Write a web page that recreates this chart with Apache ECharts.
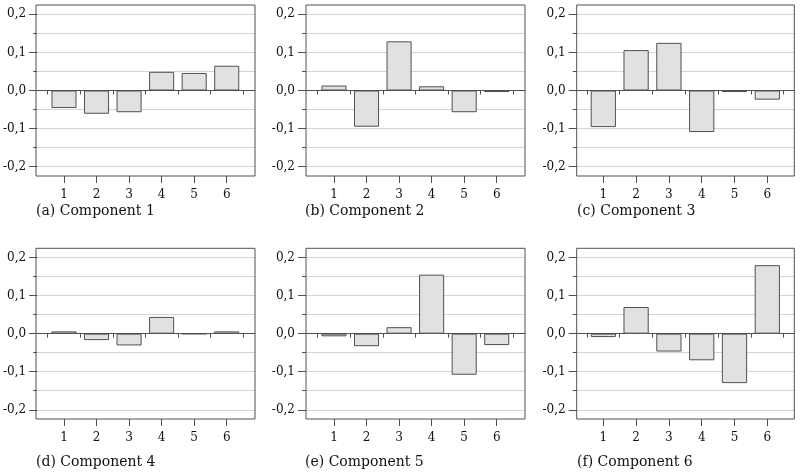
<!DOCTYPE html>
<html><head><meta charset="utf-8">
<script src="https://cdn.jsdelivr.net/npm/echarts@6/dist/echarts.min.js"></script>
<style>html,body{margin:0;padding:0;background:#fff}#c{width:800px;height:475px}</style>
</head><body><div id="c"></div>
<script>
// ---- data ----
const categories = ['1', '2', '3', '4', '5', '6'];
const comp1 = [-0.046, -0.061, -0.057, 0.049, 0.046, 0.065];
const comp2 = [0.013, -0.095, 0.129, 0.011, -0.057, -0.004];
const comp3 = [-0.096, 0.106, 0.125, -0.109, -0.004, -0.024];
const comp4 = [0.006, -0.017, -0.031, 0.044, -0.001, 0.006];
const comp5 = [-0.007, -0.033, 0.017, 0.155, -0.108, -0.030];
const comp6 = [-0.009, 0.070, -0.047, -0.070, -0.130, 0.180];
const captions = ['(a) Component 1', '(b) Component 2', '(c) Component 3',
                  '(d) Component 4', '(e) Component 5', '(f) Component 6'];
const yMin = -0.2, yMax = 0.2, yStep = 0.1;

const panels = [comp1, comp2, comp3, comp4, comp5, comp6];

// ---- layout ----
const FONT = 'DejaVu Serif';
const TEXT = '#111111';
const LINE = '#505050';
const GRID = '#d4d4d4';
const YEXT = 0.2243; // frame extent in data units
const cols = [
  {fl: 36, fw: 219, il: 47.7, iw: 195.3, cap: 36},
  {fl: 306, fw: 219, il: 317.7, iw: 195.3, cap: 305},
  {fl: 576.7, fw: 217.6, il: 586.9, iw: 196.8, cap: 577}
];
const rows = [
  {ft: 5, fh: 171, cap: 204},
  {ft: 248.3, fh: 170.7, cap: 455}
];

const grid = [], xAxis = [], yAxis = [], series = [], title = [];
panels.forEach((vals, i) => {
  const c = cols[i % 3], r = rows[Math.floor(i / 3)];
  const g0 = grid.length;
  // frame
  grid.push({left: c.fl, top: r.ft, width: c.fw, height: r.fh, show: true,
    borderColor: LINE, borderWidth: 1, backgroundColor: 'transparent', z: 10});
  xAxis.push({gridIndex: g0, type: 'value', show: false, min: 0, max: 1});
  yAxis.push({gridIndex: g0, type: 'value', show: false, min: 0, max: 1});
  // y scale with gridlines
  const pad = r.fh * (YEXT - yMax) / (2 * YEXT);
  const hh = r.fh * (yMax - yMin) / (2 * YEXT);
  grid.push({left: c.fl, top: r.ft + pad, width: c.fw, height: hh});
  xAxis.push({gridIndex: g0 + 1, type: 'value', min: 0, max: 1,
    axisLine: {show: true, onZero: true, lineStyle: {color: LINE, width: 1}},
    axisTick: {show: false}, axisLabel: {show: false}, splitLine: {show: false}});
  yAxis.push({gridIndex: g0 + 1, type: 'value', min: yMin, max: yMax, interval: yStep,
    axisLine: {show: false},
    axisTick: {show: true, inside: false, length: 8, lineStyle: {color: LINE}},
    minorTick: {show: true, splitNumber: 2, length: 4, lineStyle: {color: LINE}},
    splitLine: {show: true, lineStyle: {color: GRID, width: 1}},
    minorSplitLine: {show: true, lineStyle: {color: GRID, width: 1}},
    axisLabel: {margin: 11, fontFamily: FONT, fontSize: 12, color: TEXT,
      formatter: v => v.toFixed(1).replace('.', ',')}});
  // bars + x ticks
  grid.push({left: c.il, top: r.ft, width: c.iw, height: r.fh});
  const xa = xAxis.length;
  xAxis.push({gridIndex: g0 + 2, type: 'category', data: categories, position: 'bottom',
    boundaryGap: true, axisLine: {show: false},
    axisTick: {show: true, alignWithLabel: false, length: 4, lineStyle: {color: LINE}},
    axisLabel: {show: false}});
  xAxis.push({gridIndex: g0 + 2, type: 'category', data: categories, position: 'bottom',
    boundaryGap: true, axisLine: {show: false},
    axisTick: {show: true, alignWithLabel: true, length: 7, lineStyle: {color: LINE}},
    axisLabel: {show: true, margin: 13, fontFamily: FONT, fontSize: 12, color: TEXT}});
  const ya = yAxis.length;
  yAxis.push({gridIndex: g0 + 2, type: 'value', show: false, min: -YEXT, max: YEXT});
  series.push({type: 'bar', xAxisIndex: xa + 1, yAxisIndex: ya, data: vals,
    barWidth: '77%', silent: true,
    itemStyle: {color: '#e1e1e1', borderColor: LINE, borderWidth: 1}});
  title.push({text: captions[i], left: c.cap, top: r.cap, padding: 0,
    textStyle: {fontFamily: FONT, fontSize: 14, fontWeight: 'normal', color: TEXT}});
});

const chart = echarts.init(document.getElementById('c'), null, {renderer: 'canvas'});
chart.setOption({animation: false, backgroundColor: '#fff', title, grid, xAxis, yAxis, series});
</script>
</body></html>
